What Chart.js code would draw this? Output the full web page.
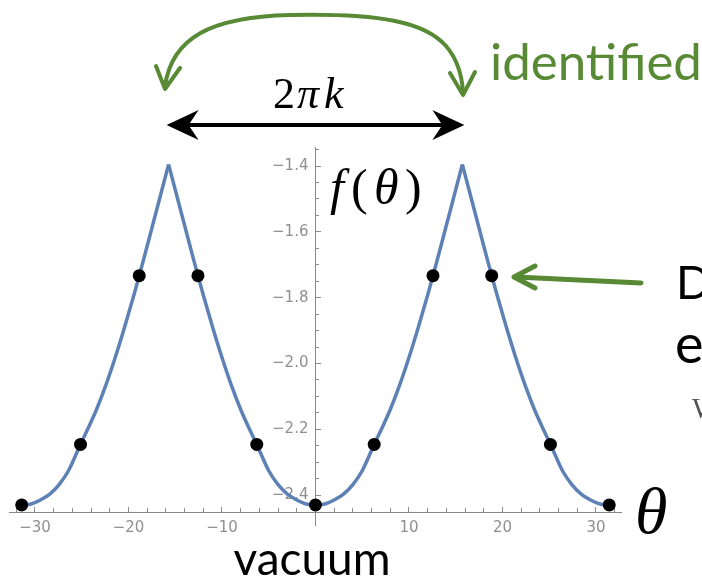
<!DOCTYPE html>
<html>
<head>
  <meta charset="utf-8">
  <title>f(theta) with vacua</title>
  <script src="https://cdn.jsdelivr.net/npm/chart.js"></script>
  <style>
    body {
      margin: 0;
      background-color: #ffffff;
    }
    #wrap {
      width: 702px;
      height: 580px;
      position: relative;
    }
  </style>
</head>
<body>
  <div id="wrap"><canvas id="chart"></canvas></div>
  <script>
    // f(theta) (cusps at +-5pi, minima at 0 and +-10pi)
    const thetaVals = [
      -31.42, -30.42, -29.42, -28.42, -27.42, -26.42, -25.14, -24.42, -23.42, -22.42, -21.42, -20.42, -19.42, -18.85, -18.42, -17.42, -16.42, -15.71,
      -15, -14, -13, -12.57, -12, -11, -10, -9, -8, -7, -6.28, -5, -4, -3, -2, -1, 0,
      1, 2, 3, 4, 5, 6.28, 7, 8, 9, 10, 11, 12, 12.57, 13, 14, 15, 15.71,
      16.42, 17.42, 18.42, 18.85, 19.42, 20.42, 21.42, 22.42, 23.42, 24.42, 25.14, 26.42, 27.42, 28.42, 29.42, 30.42, 31.42
    ];
    const fVals = [
      -2.430, -2.427, -2.415, -2.397, -2.368, -2.326, -2.246, -2.203, -2.140, -2.066, -1.982, -1.890, -1.792, -1.733, -1.688, -1.580, -1.472, -1.395,
      -1.472, -1.580, -1.688, -1.733, -1.792, -1.890, -1.982, -2.066, -2.140, -2.203, -2.246, -2.326, -2.368, -2.397, -2.415, -2.427, -2.430,
      -2.427, -2.415, -2.397, -2.368, -2.326, -2.246, -2.203, -2.140, -2.066, -1.982, -1.890, -1.792, -1.733, -1.688, -1.580, -1.472, -1.395,
      -1.472, -1.580, -1.688, -1.733, -1.792, -1.890, -1.982, -2.066, -2.140, -2.203, -2.246, -2.326, -2.368, -2.397, -2.415, -2.427, -2.430
    ];
    // the curve has sharp cusps here
    const cuspTheta = [-15.71, 15.71];

    // black dots at theta = 2*pi*n
    const vacuaTheta = [-31.42, -25.13, -18.85, -12.57, -6.28, 0, 6.28, 12.57, 18.85, 25.13, 31.42];
    const vacuaF = [-2.430, -2.246, -1.733, -1.733, -2.246, -2.430, -2.246, -1.733, -1.733, -2.246, -2.430];

    // axes
    const xMajorTicks = [-30, -20, -10, 10, 20, 30];
    const xMinorTicks = [-32, -28, -26, -24, -22, -18, -16, -14, -12, -8, -6, -4, -2, 2, 4, 6, 8, 12, 14, 16, 18, 22, 24, 26, 28, 32];
    const yMajorTicks = [-2.4, -2.2, -2.0, -1.8, -1.6, -1.4];
    const yMinorTicks = [-2.35, -2.3, -2.25, -2.15, -2.1, -2.05, -1.95, -1.9, -1.85, -1.75, -1.7, -1.65, -1.55, -1.5, -1.45, -1.35];
    const xRange = [-32.7, 32.7];
    const yRange = [-2.491, -1.342];
    const xAxisAt = -2.452;

    const axisGray = '#8a8a8a';
    const labelGray = '#8f8f8f';
    const green = '#588a35';
    const curveBlue = '#5e81b5';

    const useTicks = list => axis => { axis.ticks = list.map(v => ({ value: v })); };
    const minus = v => (v < 0 ? '\u2212' : '');

    function markAxis(list, len, withBorder, pos) {
      return {
        type: 'linear',
        min: pos.y !== undefined ? xRange[0] : yRange[0],
        max: pos.y !== undefined ? xRange[1] : yRange[1],
        position: pos,
        afterBuildTicks: useTicks(list),
        border: { display: withBorder, color: axisGray, width: 1 },
        grid: { drawOnChartArea: false, drawTicks: true, tickLength: len, tickColor: axisGray, tickWidth: 1 },
        ticks: { display: false }
      };
    }

    // split the curve at the cusps so the smoothing keeps them sharp
    const branches = [[]];
    thetaVals.forEach((t, i) => {
      const p = { x: t, y: fVals[i] };
      branches[branches.length - 1].push(p);
      if (cuspTheta.includes(t)) branches.push([p]);
    });

    const notes = {
      id: 'notes',
      afterDraw(chart) {
        const ctx = chart.ctx;
        const xs = chart.scales.x;
        ctx.save();

        // f(theta)
        ctx.fillStyle = '#000';
        ctx.textBaseline = 'alphabetic';
        ctx.textAlign = 'left';
        ctx.font = 'italic 50px "Liberation Serif"';
        ctx.fillText('f', 330, 204);
        ctx.font = '50px "Liberation Serif"';
        ctx.fillText('(', 351, 204);
        ctx.font = 'italic 50px "Liberation Serif"';
        ctx.fillText('\u03b8', 374, 204);
        ctx.font = '50px "Liberation Serif"';
        ctx.fillText(')', 405, 204);

        // theta axis label
        ctx.font = 'italic 66px "Liberation Serif"';
        ctx.fillText('\u03b8', 635, 533);

        // 2 pi k
        ctx.font = '44px "Liberation Serif"';
        ctx.fillText('2', 273, 108);
        ctx.font = 'italic 44px "Liberation Serif"';
        ctx.fillText('\u03c0', 297, 108);
        ctx.fillText('k', 324, 108);

        // black double arrow between the cusps
        const xl = xs.getPixelForValue(cuspTheta[0]);
        const xr = xs.getPixelForValue(cuspTheta[1]);
        const ya = 125;
        ctx.strokeStyle = '#000';
        ctx.lineWidth = 4;
        ctx.beginPath();
        ctx.moveTo(xl + 12, ya);
        ctx.lineTo(xr - 12, ya);
        ctx.stroke();
        ctx.beginPath();
        ctx.moveTo(xl - 2, ya);
        ctx.lineTo(xl + 30, ya - 15);
        ctx.lineTo(xl + 20, ya);
        ctx.lineTo(xl + 30, ya + 15);
        ctx.closePath();
        ctx.moveTo(xr + 2, ya);
        ctx.lineTo(xr - 30, ya - 15);
        ctx.lineTo(xr - 20, ya);
        ctx.lineTo(xr - 30, ya + 15);
        ctx.closePath();
        ctx.fillStyle = '#000';
        ctx.fill();

        // green "identified" arc
        ctx.strokeStyle = green;
        ctx.lineWidth = 4;
        ctx.lineCap = 'round';
        ctx.lineJoin = 'round';
        ctx.beginPath();
        ctx.moveTo(165, 86);
        ctx.bezierCurveTo(172, 38, 210, 17, 290, 15);
        ctx.bezierCurveTo(380, 13, 425, 22, 446, 46);
        ctx.bezierCurveTo(458, 60, 462, 76, 463, 92);
        ctx.stroke();
        ctx.beginPath();
        ctx.moveTo(156, 66);
        ctx.lineTo(165, 89);
        ctx.lineTo(180, 68);
        ctx.moveTo(450, 73);
        ctx.lineTo(463, 95);
        ctx.lineTo(475, 72);
        ctx.stroke();

        ctx.fillStyle = green;
        ctx.font = '51px Lato';
        ctx.fillText('identified', 490, 80);

        // green pointer arrow
        ctx.lineWidth = 5;
        ctx.beginPath();
        ctx.moveTo(641, 283);
        ctx.lineTo(516, 277);
        ctx.stroke();
        ctx.beginPath();
        ctx.moveTo(535, 266);
        ctx.lineTo(514, 277);
        ctx.lineTo(535, 288);
        ctx.stroke();

        // cut-off slide text on the right
        ctx.fillStyle = '#000';
        ctx.font = '46px Lato';
        ctx.fillText('D', 676, 299);
        ctx.font = '54px Lato';
        ctx.fillText('e', 675, 363);
        ctx.fillStyle = '#555';
        ctx.font = '30px "Liberation Serif"';
        ctx.fillText('W', 692, 418);

        // vacuum
        ctx.fillStyle = '#000';
        ctx.font = '46px Lato';
        ctx.textAlign = 'center';
        ctx.fillText('vacuum', 312, 575);

        ctx.restore();
      }
    };

    const ctx = document.getElementById('chart').getContext('2d');
    new Chart(ctx, {
      type: 'scatter',
      data: {
        datasets: [
          {
            label: 'vacua',
            data: vacuaTheta.map((t, i) => ({ x: t, y: vacuaF[i] })),
            pointRadius: 6.5,
            pointBackgroundColor: '#000',
            pointBorderColor: '#000',
            pointBorderWidth: 0,
            showLine: false,
            order: 0
          },
          ...branches.map(b => ({
            label: 'f',
            data: b,
            showLine: true,
            borderColor: curveBlue,
            borderWidth: 3.5,
            pointRadius: 0,
            cubicInterpolationMode: 'monotone',
            order: 1
          }))
        ]
      },
      options: {
        responsive: true,
        maintainAspectRatio: false,
        animation: false,
        layout: { padding: { left: 9.75, right: 80.8, top: 147, bottom: 55 } },
        plugins: {
          legend: { display: false },
          tooltip: { enabled: false }
        },
        scales: {
          x: markAxis(xMajorTicks, -6, true, { y: xAxisAt }),
          xMinor: markAxis(xMinorTicks, -4, false, { y: xAxisAt }),
          xLab: {
            type: 'linear',
            min: xRange[0],
            max: xRange[1],
            position: { y: xAxisAt },
            afterBuildTicks: useTicks(xMajorTicks),
            border: { display: false },
            grid: { drawOnChartArea: false, drawTicks: false },
            ticks: {
              autoSkip: false,
              maxRotation: 0,
              padding: 7,
              color: labelGray,
              font: { family: 'DejaVu Sans', size: 15 },
              callback: v => minus(v) + Math.abs(v)
            }
          },
          y: markAxis(yMajorTicks, -6, true, { x: 0 }),
          yMinor: markAxis(yMinorTicks, -4, false, { x: 0 }),
          yLab: {
            type: 'linear',
            min: yRange[0],
            max: yRange[1],
            position: { x: -0.75 },
            afterBuildTicks: useTicks(yMajorTicks),
            border: { display: false },
            grid: { drawOnChartArea: false, drawTicks: false },
            ticks: {
              autoSkip: false,
              padding: 0,
              color: labelGray,
              font: { family: 'DejaVu Sans', size: 15 },
              callback: v => minus(v) + Math.abs(v).toFixed(1)
            }
          }
        }
      },
      plugins: [notes]
    });
  </script>
</body>
</html>
